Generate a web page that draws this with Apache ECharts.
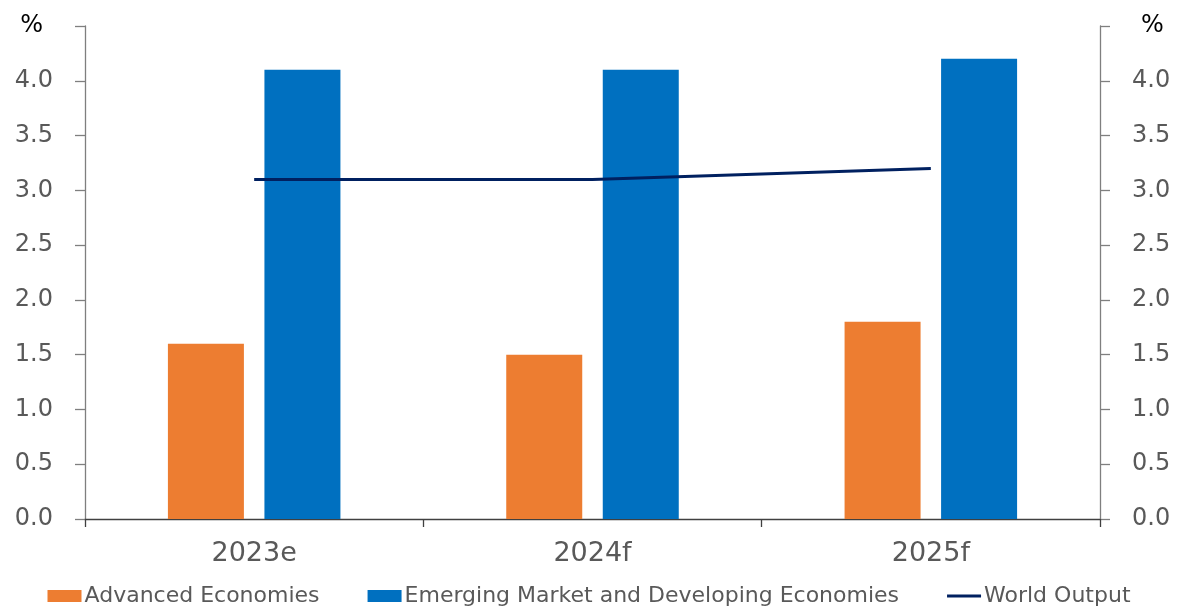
<!DOCTYPE html>
<html><head><meta charset="utf-8">
<script src="https://cdn.jsdelivr.net/npm/echarts@6/dist/echarts.min.js"></script>
<style>html,body{margin:0;padding:0;background:#fff}#c{width:1178px;height:608px}</style>
</head><body><div id="c"></div>
<script>
const categories = ['2023e', '2024f', '2025f'];
const advanced = [1.6, 1.5, 1.8];
const emerging = [4.1, 4.1, 4.2];
const world = [3.1, 3.1, 3.2];
const seriesNames = ['Advanced Economies', 'Emerging Market and Developing Economies', 'World Output'];

const FONT = '"DejaVu Sans", sans-serif';
const chart = echarts.init(document.getElementById('c'));
const yAxisBase = {
  type: 'value', min: 0, max: 4.5, interval: 0.5,
  name: '%', nameLocation: 'end', nameGap: 0,
  axisLine: { show: true, lineStyle: { color: '#7f7f7f', width: 1.3 } },
  axisTick: { show: true, length: 10, lineStyle: { color: '#7f7f7f', width: 1.3 } },
  splitLine: { show: false },
  axisLabel: {
    fontFamily: FONT, fontSize: 24, color: '#595959', margin: 32,
    formatter: v => v >= 4.5 ? '' : v.toFixed(1)
  }
};
chart.setOption({
  animation: false,
  grid: { left: 85, right: 78, top: 26, bottom: 89, containLabel: false },
  legend: {
    top: 580, left: 'center', itemGap: 48, itemWidth: 34, itemHeight: 12,
    textStyle: { fontFamily: FONT, fontSize: 22, color: '#595959', padding: [0, 0, 0, -2] },
    data: [
      { name: seriesNames[0], icon: 'rect' },
      { name: seriesNames[1], icon: 'rect' },
      { name: seriesNames[2], icon: 'path://M0,0 L34,0 L34,3 L0,3 Z', itemStyle: { color: '#002060' } }
    ]
  },
  xAxis: {
    type: 'category', data: categories,
    axisLine: { lineStyle: { color: '#404040', width: 1.3 } },
    axisTick: { show: true, length: 8, lineStyle: { color: '#404040', width: 1.3 } },
    axisLabel: { fontFamily: FONT, fontSize: 27, color: '#595959', margin: 21 }
  },
  yAxis: [
    Object.assign({}, yAxisBase, {
      position: 'left',
      nameTextStyle: { fontFamily: FONT, fontSize: 24, color: '#000', align: 'right', verticalAlign: 'middle', padding: [0, 42, 0, 0] }
    }),
    Object.assign({}, yAxisBase, {
      position: 'right',
      nameTextStyle: { fontFamily: FONT, fontSize: 24, color: '#000', align: 'left', verticalAlign: 'middle', padding: [0, 0, 0, 41] }
    })
  ],
  series: [
    { name: seriesNames[0], type: 'bar', data: advanced, barWidth: 76, barGap: '27%', itemStyle: { color: '#ED7D31' } },
    { name: seriesNames[1], type: 'bar', data: emerging, barWidth: 76, itemStyle: { color: '#0070C0' } },
    { name: seriesNames[2], type: 'line', data: world, symbol: 'none', z: 5,
      lineStyle: { color: '#002060', width: 3 }, itemStyle: { color: '#002060' } }
  ]
});
</script></body></html>
